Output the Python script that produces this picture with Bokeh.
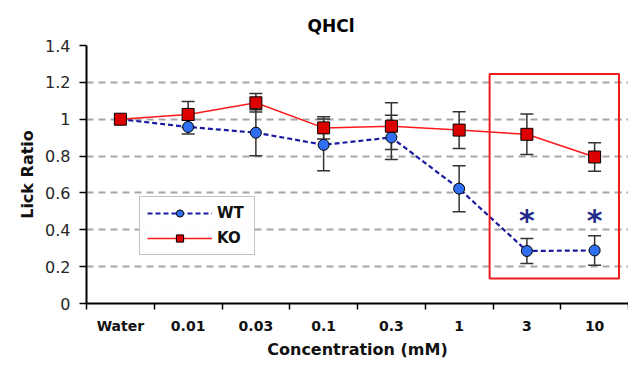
from bokeh.plotting import figure
from bokeh.models import (FixedTicker, Legend, LegendItem, Range1d, BoxAnnotation)
from bokeh.core.properties import value
from bokeh.embed import file_html
from bokeh.resources import INLINE

# ---- data ----
categories = ["Water", "0.01", "0.03", "0.1", "0.3", "1", "3", "10"]
wt_mean = [1.0, 0.958, 0.927, 0.861, 0.901, 0.623, 0.285, 0.288]
wt_err = [0.0, 0.038, 0.125, 0.14, 0.12, 0.125, 0.068, 0.08]
ko_mean = [1.0, 1.026, 1.089, 0.953, 0.962, 0.941, 0.918, 0.795]
ko_err = [0.0, 0.07, 0.05, 0.06, 0.127, 0.10, 0.11, 0.077]
sig_categories = ["3", "10"]
sig_y = [0.495, 0.495]
y_ticks = [0, 0.2, 0.4, 0.6, 0.8, 1.0, 1.2, 1.4]

FONT = "DejaVu Sans"
INK = "#111111"

x = list(range(len(categories)))
sig_x = [categories.index(c) for c in sig_categories]


def bars(mean, err):
    xs = [i for i, e in zip(x, err) if e > 0]
    lo = [mean[i] - err[i] for i in xs]
    hi = [mean[i] + err[i] for i in xs]
    return xs, lo, hi


p = figure(width=628, height=361, x_range=Range1d(-0.5, len(categories) - 0.5),
           y_range=Range1d(0, 1.4), output_backend="svg", toolbar_location=None,
           min_border_left=86, min_border_right=0, min_border_top=45,
           min_border_bottom=50)
p.outline_line_color = None
p.background_fill_color = "white"

# title
p.title.text = "QHCl"
p.title.align = "left"
p.title.offset = 221
p.title.text_font = FONT
p.title.text_font_size = "17px"
p.title.text_font_style = "bold"
p.title.text_color = "black"
p.title.standoff = 20

# grid
p.xgrid.grid_line_color = None
p.ygrid.grid_line_color = "#a6a6a6"
p.ygrid.grid_line_width = 2
p.ygrid.grid_line_dash = "7 5"

# y axis
p.yaxis.ticker = FixedTicker(ticks=y_ticks)
p.yaxis.axis_label = "Lick Ratio"
p.yaxis.axis_label_text_font = FONT
p.yaxis.axis_label_text_font_size = "16px"
p.yaxis.axis_label_text_font_style = "bold"
p.yaxis.axis_label_text_color = INK
p.yaxis.axis_label_standoff = 5
p.yaxis.major_label_text_font = FONT
p.yaxis.major_label_text_font_size = "16px"
p.yaxis.major_label_text_color = "#262626"
p.yaxis.major_label_standoff = 9
p.yaxis.major_tick_out = 7
p.yaxis.major_tick_in = 0
p.yaxis.minor_tick_line_color = None
p.yaxis.axis_line_width = 2
p.yaxis.axis_line_color = "black"
p.yaxis.major_tick_line_width = 1.5
p.yaxis.major_tick_line_color = "black"

# x axis
p.xaxis.ticker = FixedTicker(ticks=x, minor_ticks=[i - 0.5 for i in range(len(categories) + 1)])
p.xaxis.major_label_overrides = {i: c for i, c in enumerate(categories)}
p.xaxis.major_tick_out = 0
p.xaxis.major_tick_in = 0
p.xaxis.minor_tick_out = 6
p.xaxis.minor_tick_in = 0
p.xaxis.minor_tick_line_width = 1.5
p.xaxis.minor_tick_line_color = "black"
p.xaxis.axis_line_width = 2
p.xaxis.axis_line_color = "black"
p.xaxis.major_label_standoff = 8
p.xaxis.major_label_text_font = FONT
p.xaxis.major_label_text_font_size = "14px"
p.xaxis.major_label_text_font_style = "bold"
p.xaxis.major_label_text_color = INK
p.xaxis.axis_label = "Concentration (mM)"
p.xaxis.axis_label_text_font = FONT
p.xaxis.axis_label_text_font_size = "16px"
p.xaxis.axis_label_text_font_style = "bold"
p.xaxis.axis_label_text_color = INK
p.xaxis.axis_label_standoff = 3

# highlight box around significant concentrations
box = BoxAnnotation(left=min(sig_x) - 0.55, right=max(sig_x) + 0.36,
                    bottom=0.135, top=1.245, fill_alpha=0, line_alpha=1,
                    line_color="#ee1c1c", line_width=2)
p.add_layout(box)

# error bars
ERR = "#333333"
for mean, err in ((wt_mean, wt_err), (ko_mean, ko_err)):
    xs, lo, hi = bars(mean, err)
    p.segment(x0=xs, y0=lo, x1=xs, y1=hi, line_color=ERR, line_width=1.5)
    p.scatter(xs, lo, marker="dash", size=13, line_color=ERR, line_width=1.5)
    p.scatter(xs, hi, marker="dash", size=13, line_color=ERR, line_width=1.5)

# lines
wt_line = p.line(x, wt_mean, line_color="#1a1aa0", line_width=2.2, line_dash="5 3")
ko_line = p.line(x, ko_mean, line_color="#ff1a1a", line_width=1.5)

# markers
wt_pts = p.scatter(x, wt_mean, marker="circle", size=11, fill_color="#2f6ff0",
                   line_color="black", line_width=1)
ko_pts = p.scatter(x, ko_mean, marker="square", size=12, fill_color="#dd0000",
                   line_color="black", line_width=1)

# significance asterisks
p.text(sig_x, sig_y, text=["*"] * len(sig_x), text_font=value("DejaVu Sans"),
       text_font_size="30px", text_font_style="bold", text_color="#1f2a8a",
       text_align="center", text_baseline="middle", y_offset=8)

legend = Legend(items=[LegendItem(label="WT", renderers=[wt_line, wt_pts]),
                       LegendItem(label="KO", renderers=[ko_line, ko_pts])],
                location=(53, 48), glyph_width=65, glyph_height=18, label_height=18,
                label_width=30, label_standoff=5, spacing=7,
                padding=7, margin=0, label_text_font=FONT,
                label_text_font_size="15px", label_text_font_style="bold",
                label_text_color=INK,
                border_line_color="#888888", border_line_width=1)
p.add_layout(legend)

open("out.html", "w").write(file_html(p, INLINE))
